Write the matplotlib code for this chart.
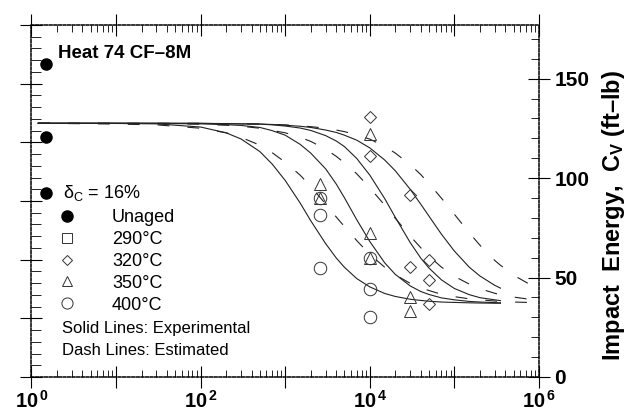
import matplotlib
matplotlib.use("Agg")
import matplotlib.pyplot as plt
from matplotlib.lines import Line2D
from matplotlib.ticker import FixedLocator, MultipleLocator, FuncFormatter, NullFormatter

plt.rcParams['font.family'] = ['Liberation Sans', 'DejaVu Sans']
plt.rcParams['mathtext.fontset'] = 'custom'
plt.rcParams['mathtext.rm'] = 'Liberation Sans'
plt.rcParams['mathtext.it'] = 'Liberation Sans:italic'
plt.rcParams['mathtext.bf'] = 'Liberation Sans:bold'
plt.rcParams['lines.scale_dashes'] = False

# ageing time (h) at which the curves were read
hours_solid = [1.2, 10, 30, 100, 200, 300, 500, 700, 1000, 1500, 2000, 3000, 4000, 5000,
               7000, 10000, 15000, 20000, 30000, 40000, 50000, 70000, 100000, 150000,
               200000, 300000, 350000]
hours_dash = hours_solid + [500000, 740000]

# solid lines: experimental (ft-lb)
cv_400_exp = [127.6, 127.5, 127.3, 125.7, 122.8, 119.7, 113.4, 107.1, 98.8, 87.5, 78.6, 67.1,
              59.9, 55.2, 49.5, 45.3, 42.0, 40.5, 39.1, 38.5, 38.1, 37.7, 37.5, 37.3, 37.2,
              37.1, 37.1]
cv_350_exp = [127.6, 127.6, 127.5, 127.3, 126.9, 126.5, 125.5, 123.9, 121.6, 117.0, 112.6, 104.7,
              97.1, 90.2, 79.1, 68.1, 57.4, 51.6, 45.8, 43.0, 41.5, 39.8, 38.8, 38.0, 37.7,
              37.4, 37.3]
cv_320_exp = [127.6, 127.6, 127.6, 127.5, 127.4, 127.3, 127.2, 126.8, 126.2, 125.2, 124.0, 121.4,
              118.7, 115.9, 109.9, 101.5, 89.7, 80.3, 67.6, 59.8, 54.8, 48.9, 44.5, 41.4, 39.9,
              38.8, 38.4]
cv_290_exp = [127.6, 127.6, 127.6, 127.6, 127.4, 127.3, 127.2, 127.0, 126.6, 126.1, 125.5, 124.2,
              123.0, 121.6, 119.1, 115.2, 109.1, 103.7, 94.4, 86.9, 80.9, 71.9, 63.3, 55.2, 50.8,
              46.1, 44.7]

# dash lines: estimated (ft-lb)
cv_est_1 = [127.6, 127.2, 126.8, 125.1, 122.8, 120.5, 116.6, 112.8, 108.0, 101.5, 95.9, 87.0,
            80.5, 75.7, 68.6, 61.6, 55.2, 51.4, 47.1, 44.8, 43.5, 41.6, 40.4, 39.3, 38.8, 38.2,
            38.0, 37.7, 37.5]
cv_est_2 = [127.6, 127.5, 127.4, 127.1, 126.6, 126.1, 125.1, 124.0, 122.8, 120.5, 118.5, 114.6,
            111.0, 107.7, 102.2, 95.1, 86.4, 79.8, 70.9, 65.0, 60.8, 55.3, 50.6, 46.7, 44.4, 42.1,
            41.4, 40.2, 39.2]
cv_est_3 = [127.6, 127.6, 127.6, 127.6, 127.4, 127.3, 127.2, 127.0, 126.8, 126.3, 125.9, 125.1,
            124.2, 123.4, 121.8, 119.6, 116.0, 112.6, 106.8, 101.8, 97.3, 90.0, 81.8, 72.5, 66.3,
            58.6, 56.2, 51.2, 47.1]

# measured points
unaged_h = [1.5, 1.5, 1.5]
unaged_cv = [157.5, 120.5, 92.3]
h_320 = [10000, 10000, 30000, 30000, 50000, 50000, 50000]
cv_320 = [131, 111, 91.5, 55.5, 59, 49, 36.5]
h_350 = [2570, 2570, 10000, 10000, 10000, 30000, 30000]
cv_350 = [97, 89.8, 122, 72.3, 59.8, 40, 33]
h_400 = [2570, 2570, 2570, 10000, 10000, 10000]
cv_400 = [89.8, 81.4, 55, 59.8, 44.2, 30.1]

J_PER_FTLB = 1.3558

fig = plt.figure(figsize=(6.4, 4.18), dpi=100)
ax = fig.add_axes([0.0492, 0.0981, 0.7930, 0.8421])
ax2 = ax.twinx()

ax.set_xscale('log')
ax.set_xlim(1, 1e6)
ax.set_ylim(0, 240)
ax2.set_ylim(0, 240 / J_PER_FTLB)

lc = '#222222'
for cv in [cv_400_exp, cv_350_exp, cv_320_exp, cv_290_exp]:
    ax2.plot(hours_solid, cv, color=lc, lw=0.8)
for cv in [cv_est_1, cv_est_2, cv_est_3]:
    ax2.plot(hours_dash, cv, color=lc, lw=0.8, dashes=(8.5, 13))

ax2.plot(unaged_h, unaged_cv, 'o', ms=8, color='black', clip_on=False)
ax2.plot(h_320, cv_320, 'D', ms=6, mfc='none', mec='#333333', mew=0.7)
ax2.plot(h_350, cv_350, '^', ms=8, mfc='none', mec='#333333', mew=0.7)
ax2.plot(h_400, cv_400, 'o', ms=9, mfc='none', mec='#333333', mew=0.7)

# spines
spine_ls = (0, (2, 1.3))
for name, s in ax.spines.items():
    s.set_linestyle(spine_ls)
    s.set_linewidth(1.1)
ax.spines['right'].set_visible(False)
for name, s in ax2.spines.items():
    if name == 'right':
        s.set_linestyle(spine_ls)
        s.set_linewidth(1.1)
    else:
        s.set_visible(False)

# x ticks
ax.xaxis.set_major_locator(FixedLocator([10.0 ** k for k in range(7)]))
minors = [m * 10.0 ** k for k in range(6) for m in range(2, 10)]
ax.xaxis.set_minor_locator(FixedLocator(minors))
ax.xaxis.set_minor_formatter(NullFormatter())


def xfmt(v, pos):
    import math
    k = int(round(math.log10(v)))
    if k % 2 == 0:
        return r'$\mathbf{10^{\,%d}}$' % k
    return ''


ax.xaxis.set_major_formatter(FuncFormatter(xfmt))
ax.tick_params(axis='x', which='major', direction='inout', length=16, width=0.8,
               top=True, labelsize=14.5, pad=1)
ax.tick_params(axis='x', which='minor', direction='in', length=5, width=0.6, top=True)

# left axis (J), no labels
ax.yaxis.set_major_locator(MultipleLocator(40))
ax.yaxis.set_minor_locator(MultipleLocator(8))
ax.tick_params(axis='y', which='major', direction='inout', length=16, width=0.8, labelleft=False)
ax.tick_params(axis='y', which='minor', direction='in', length=7, width=0.6)

# right axis (ft-lb)
ax2.yaxis.set_major_locator(MultipleLocator(50))
ax2.yaxis.set_minor_locator(MultipleLocator(10))
ax2.tick_params(axis='y', which='major', direction='inout', length=16, width=0.8,
                labelsize=15, pad=3)
ax2.tick_params(axis='y', which='minor', direction='in', length=6, width=0.6)
for lbl in ax2.get_yticklabels():
    lbl.set_fontweight('bold')
ax2.set_ylabel(r'Impact  Energy,  C$_\mathbf{V}$ (ft–lb)', fontsize=17, fontweight='bold')
ax2.yaxis.set_label_coords(1.12, 0.46)

# texts
ax.text(0.052, 0.918, 'Heat 74 CF–8M', transform=ax.transAxes, fontsize=13.5,
        fontweight='bold', va='center', ha='left')
ax.text(0.062, 0.524, r'δ$_\mathrm{C}$ = 16%', transform=ax.transAxes, fontsize=13,
        va='center', ha='left')
ax.text(0.060, 0.139, 'Solid Lines: Experimental', transform=ax.transAxes, fontsize=12,
        va='center', ha='left')
ax.text(0.060, 0.076, 'Dash Lines: Estimated', transform=ax.transAxes, fontsize=12,
        va='center', ha='left')

handles = [
    Line2D([], [], ls='none', marker='o', ms=8, color='black'),
    Line2D([], [], ls='none', marker='s', ms=6.5, mfc='none', mec='#333333', mew=0.7),
    Line2D([], [], ls='none', marker='D', ms=5.5, mfc='none', mec='#333333', mew=0.7),
    Line2D([], [], ls='none', marker='^', ms=7, mfc='none', mec='#333333', mew=0.7),
    Line2D([], [], ls='none', marker='o', ms=8, mfc='none', mec='#333333', mew=0.7),
]
labels = ['Unaged', '290°C', '320°C', '350°C', '400°C']
ax.legend(handles, labels, loc='upper left', bbox_to_anchor=(0.052, 0.477),
          bbox_transform=ax.transAxes, frameon=False, fontsize=13,
          borderpad=0, borderaxespad=0, handlelength=1.0, handletextpad=2.0,
          labelspacing=0.27)

fig.savefig('out.png', dpi=100)
